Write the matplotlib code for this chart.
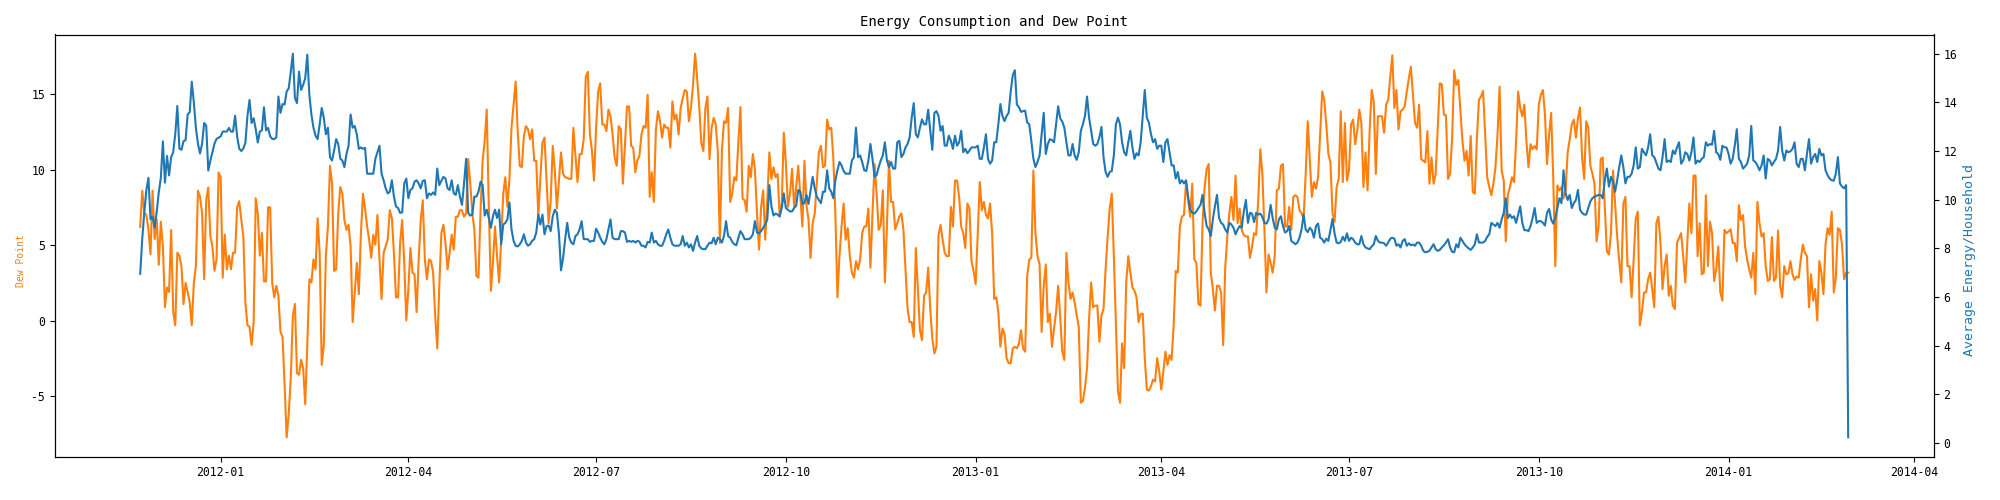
import matplotlib
matplotlib.use("Agg")
import matplotlib.pyplot as plt
import pandas as pd

start_date = "2011-11-23"

dew_point = [
    # 2011-11-23 ...
    6.2, 8.6, 7.1, 7.0, 6.0, 4.4, 8.6, 5.4, 6.7, 3.7,
    6.55, 4.9, 0.9, 2.2, 1.9, 6.0, 0.6, -0.3, 4.5, 4.3,
    3.6, 1.1, 2.5, 1.9, 1.2, -0.3, 2.5, 3.6, 8.6, 8.2,
    7.1, 2.75, 8.0, 8.8, 5.6, 4.9, 3.3, 4.05, 9.8, 9.5,
    2.85, 5.7, 3.4, 4.3, 3.4, 4.5, 4.5, 7.5, 7.9, 6.7,
    5.6, 1.2, -0.3, -0.4, -1.6, -0.1, 8.1, 7.1, 4.3, 5.8,
    2.6, 2.6, 7.5, 7.5, 2.5,
    1.55, 2.31, 1.65, -0.74, -1.07, -4.22, -7.71, -6.18, -3.79, 0.35,
    1.11, -3.46, -3.57, -2.59, -3.14, -5.53, -1.61, 2.74, 2.53, 4.05,
    3.4, 6.77, 4.49, -2.92, -1.61, 4.27, 6.23, 10.25, 9.06, 3.29,
    3.4, 7.1, 8.84, 8.4, 6.66, 6.01, 6.34, 4.92, -0.09, 1.87,
    3.83, 1.76, 5.79, 8.4, 7.42, 6.23, 5.36, 4.16, 5.68, 5.03,
    6.99, 4.05, 1.44, 4.49, 4.92, 5.36, 7.31, 6.77, 4.49, 1.55,
    1.55, 5.14, 6.66, 3.83, 0.02, 2.09, 4.81, 3.18, 3.07, 0.57,
    4.05, 6.66, 7.97, 4.05, 2.74, 4.05, 3.94, 3.18, 0.35, -1.83,
    2.31, 5.79, 6.34, 5.14, 3.4, 4.49, 5.68, 4.7, 6.88, 6.88,
    7.31, 7.31, 6.88, 7.1, 10.69, 9.06, 7.1, 6.01, 2.96, 2.85,
    7.31, 10.58, 11.89, 13.96, 7.53, 1.98, 3.83, 6.23, 4.27, 2.53,
    5.36, 8.4, 9.49, 7.53, 9.38, 12.76, 14.28, 15.81, 12.54, 10.25,
    10.15, 12.21, 12.87, 12.65, 12.0, 12.65, 10.58, 10.58, 6.88, 9.49,
    11.78, 12.11, 9.27, 6.45, 7.97, 11.56, 9.93, 7.42, 9.27, 11.13,
    9.71, 9.49, 9.45, 9.38, 9.38, 12.76, 10.91, 9.17, 11.02, 11.02,
    12.0, 16.13, 16.46, 12.32, 11.23, 9.27, 12.76, 15.15, 15.7, 12.98,
    12.98, 12.54, 13.96, 13.52, 12.32, 10.8, 10.25, 12.87, 12.65, 9.06,
    11.67, 14.17, 14.17, 11.56, 11.45, 9.82, 10.58, 10.91, 12.32, 12.87,
    12.76, 14.94, 8.19, 9.82, 7.86, 12.65, 13.85, 13.19, 12.11, 12.98,
    12.76, 12.76, 11.45, 14.5, 13.3, 13.63, 12.32, 14.07, 14.72, 15.26,
    15.15, 13.19, 14.07, 15.59, 17.66, 16.02, 14.17, 11.78, 11.23, 14.07,
    14.83, 10.69, 12.76, 13.41, 12.98, 11.23, 5.14, 11.23, 13.19, 13.08,
    14.07, 7.86, 8.4, 9.49, 9.27, 11.89, 14.13, 8.08, 7.97, 7.21,
    10.25, 9.49, 11.02, 10.04, 7.1, 4.7, 7.53, 8.62, 5.36, 7.97,
    11.13, 9.38, 10.15, 9.49, 9.71, 6.88, 7.75, 12.43, 10.47, 7.53,
    8.4, 10.04, 7.53, 8.84, 10.25, 8.3, 6.23, 10.58, 7.64, 6.66,
    4.16, 6.45, 7.1, 9.17, 11.13, 11.56, 10.15, 10.25, 13.3, 12.65,
    12.76, 10.8, 7.1, 1.55, 4.27, 6.23, 7.75, 5.36, 6.12, 4.27,
    3.18, 2.85, 3.94, 3.4, 4.05, 5.79, 6.23, 6.23, 7.42, 3.51,
    7.1, 10.36, 8.4, 6.01, 6.34, 8.62, 2.53, 6.23, 10.58, 7.86,
    7.86, 6.05, 6.45, 6.88, 7.1, 6.01, 3.4, 0.78, -0.09, -0.09,
    -1.07, 4.81, 2.09, -0.63, -1.28, 1.65, 1.87, 3.51, 0.78, -1.18,
    -2.16, -1.72, 5.68, 6.34, 5.36, 4.49, 4.27, 4.27, 7.53, 6.23,
    9.27, 9.27, 8.19, 6.23, 5.79, 4.81, 7.75, 7.42, 3.94, 3.29,
    2.42, 5.68, 9.17, 7.31, 7.86, 6.99, 6.77, 7.75, 5.79, 1.44,
    1.55, 0.57, -1.72, -0.52, -0.85, -2.48, -2.81, -2.81, -1.83, -1.72,
    -1.83, -1.5, -0.63, -1.83, -2.05, 2.96, 4.05, 4.16, 9.93, 5.79,
    4.27, 3.72, -0.74, 2.31, 3.72, -0.09, 0.46, -1.72, -0.52, 0.57,
    2.31, 0.24, -2.05, -2.59, 4.49, 2.53, 1.44, 1.87, 1.22, 0.35,
    -0.41, -5.42, -5.31, -4.44, -3.14, 0.13, 2.53, 0.89, 1.0, 1.0,
    -1.39, 0.35, 0.78, 3.4, 5.57, 7.42, 8.4, 4.27, -0.3, -4.66,
    -5.42, -1.5, -3.14, 2.53, 4.27, 3.18, 2.2, 1.98, 1.55, -0.09,
    0.46, 0.46, -2.48, -4.55, -4.62, -4.33, -3.9, -4.01, -2.48, -3.35,
    -4.55, -3.35, -2.05, -2.92, -2.27, -2.59, -0.3, 3.29, 3.18, 6.23,
    6.88, 6.99, 9.17, 7.97, 6.88, 9.06, 4.05, 3.83, 1.11, 1.0,
    6.45, 8.84, 10.04, 10.36, 3.18, 2.09, 0.68, 2.31, 2.31, 1.87,
    -1.61, 3.51, 5.57, 7.1, 8.19, 6.66, 9.6, 6.45, 7.42, 6.01,
    5.68, 5.57, 5.57, 4.16, 4.92, 5.79, 5.68, 7.97, 11.34, 9.71,
    6.01, 1.87, 4.38, 3.83, 3.18, 4.27, 8.62, 8.73, 10.25, 10.36,
    6.23, 6.23, 7.53, 6.01, 8.19, 8.3, 8.19, 7.31, 7.1, 6.77,
    9.71, 13.19, 10.58, 8.19, 9.17, 8.73, 9.49, 12.32, 15.15, 14.61,
    12.98, 11.02, 10.47, 7.1, 6.55, 8.84, 9.38, 13.85, 9.17, 13.08,
    9.27, 9.93, 12.98, 13.3, 11.67, 12.54, 13.96, 13.08, 8.84, 11.13,
    8.62, 12.54, 15.26, 14.5, 9.71, 13.52, 13.52, 13.52, 12.43, 14.28,
    14.61, 16.13, 17.55, 14.07, 15.26, 12.65, 13.85, 13.96, 14.17, 15.15,
    16.02, 16.79, 14.94, 13.08, 12.76, 14.28, 10.69, 10.58, 10.47, 12.54,
    9.06, 10.8, 9.06, 9.71, 12.76, 15.7, 15.63, 13.63, 13.59, 9.38,
    9.71, 12.11, 16.57, 15.59, 15.92, 13.85, 11.89, 10.58, 11.23, 9.6,
    12.21, 8.51, 8.4, 12.11, 14.61, 14.83, 15.2, 12.32, 9.49, 8.84,
    8.3, 9.06, 10.15, 12.32, 15.48, 9.93, 9.27, 5.25, 8.3, 8.84,
    9.49, 9.17, 11.89, 15.15, 14.07, 13.52, 14.28, 11.89, 10.15, 11.67,
    11.34, 11.56, 11.34, 14.28, 14.94, 15.26, 13.63, 10.36, 12.32, 13.74,
    9.49, 3.61, 8.95, 8.62, 8.84, 8.08, 8.62, 11.13, 12.0, 12.98,
    13.3, 12.11, 13.41, 14.11, 10.8, 9.38, 13.19, 12.76, 10.25, 9.71,
    9.06, 5.25, 6.23, 10.69, 10.8, 7.53, 4.59, 4.38, 5.79, 9.93,
    7.75, 5.57, 3.94, 2.53, 7.75, 8.19, 3.61, 3.61, 1.55, 4.05,
    6.77, 7.21, -0.3, 0.57, 1.87, 1.87, 2.74, 3.18, 2.09, 0.89,
    6.45, 6.88, 5.14, 2.09, 3.61, 4.38, 1.65, 2.31, 1.0, 0.78,
    5.14, 5.47, 5.79, 4.27, 2.53, 5.14, 7.75, 5.79, 9.6, 9.6,
    4.27, 6.45, 3.07, 3.18, 8.3, 3.61, 6.55, 5.79, 2.63, 3.4,
    4.92, 1.87, 1.33, 6.01, 5.79, 5.9, 6.05, 5.14, 5.14, 3.94,
    7.64, 6.66, 6.99, 4.92, 4.05, 3.4, 2.85, 4.49, 1.76, 7.86,
    6.45, 5.57, 5.79, 3.61, 2.63, 2.74, 5.53, 2.63, 2.85, 5.97,
    2.31, 1.55, 3.61, 3.07, 3.14, 3.94, 3.07, 2.7, 2.92, 2.85,
    4.05, 5.03, 4.49, 4.27, 0.89, 3.07, 1.33, 2.09, 0.02, 3.94,
    3.18, 1.76, 5.03, 6.12, 5.68, 7.21, 1.87, 2.85, 6.12, 6.01,
    5.03, 2.74, 3.18, 3.18,
]

avg_energy = [
    6.96, 8.4, 9.5, 10.4, 10.9, 9.2, 9.3, 8.85, 9.5, 10.3,
    10.9, 12.4, 10.7, 11.8, 11.0, 11.75, 11.95, 12.7, 13.85, 12.1,
    12.05, 12.4, 12.45, 13.5, 13.6, 14.85, 14.0, 12.95, 12.3, 11.9,
    12.3, 13.15, 13.05, 11.2, 11.6, 11.95, 12.3, 12.5, 12.55, 12.6,
    12.8, 12.8, 12.8, 12.95, 12.8, 12.8, 13.45, 12.6, 12.1, 12.0,
    12.1, 12.35, 13.45, 14.1, 13.15, 13.35, 12.9, 12.35, 12.8, 12.85,
    13.8, 12.85, 12.95, 12.6, 12.5,
    12.49, 12.56, 14.24, 13.57, 13.93, 13.91, 14.45, 14.58, 15.26, 16.0,
    14.18, 13.97, 15.26, 14.51, 14.72, 14.99, 15.96, 14.31, 13.5, 12.96,
    12.63, 12.49, 13.1, 13.77, 13.37, 12.69, 12.96, 11.75, 11.61, 12.02,
    12.49, 12.29, 11.68, 11.61, 11.34, 11.88, 12.22, 13.5, 12.96, 13.03,
    12.69, 12.09, 12.15, 12.09, 12.13, 11.07, 11.07, 11.07, 11.07, 11.68,
    11.95, 12.22, 11.07, 10.8, 10.47, 10.26, 10.33, 10.8, 10.13, 9.72,
    9.66, 9.46, 9.48, 10.67, 10.87, 10.06, 10.4, 10.47, 10.74, 10.8,
    10.67, 10.47, 10.78, 10.8, 10.06, 10.26, 10.2, 10.3, 10.2, 11.28,
    10.6, 10.78, 10.94, 10.87, 10.47, 10.4, 10.8, 10.26, 10.2, 10.6,
    10.13, 9.79, 10.67, 11.68, 9.46, 9.35, 9.39, 10.13, 10.13, 10.33,
    10.74, 10.6, 9.35, 9.59, 9.25, 8.85, 9.32, 9.59, 9.25, 9.59,
    8.17, 8.98, 9.05, 9.19, 9.89, 8.78, 8.31, 8.11, 8.08, 8.17,
    8.31, 8.58, 8.24, 8.11, 8.17, 8.31, 8.38, 8.65, 9.39, 8.98,
    9.39, 8.58, 8.92, 8.94, 8.71, 9.32, 9.59, 9.46, 8.6, 7.1,
    7.6, 8.38, 9.05, 8.44, 8.24, 8.17, 8.51, 8.58, 8.78, 9.12,
    8.38, 8.38, 8.38, 8.27, 8.31, 8.31, 8.81, 8.65, 8.44, 8.27,
    8.17, 8.38, 8.78, 9.19, 8.44, 8.38, 8.38, 8.38, 8.71, 8.71,
    8.65, 8.27, 8.31, 8.27, 8.31, 8.24, 8.31, 8.28, 8.11, 8.11,
    8.04, 8.27, 8.24, 8.65, 8.24, 8.31, 8.17, 8.11, 8.11, 8.31,
    8.58, 8.78, 8.44, 8.17, 8.11, 8.11, 8.11, 8.17, 8.51, 8.11,
    8.24, 8.04, 8.17, 7.9, 8.24, 8.51, 8.11, 8.0, 7.97, 7.97,
    8.11, 8.24, 8.21, 8.44, 8.17, 8.44, 8.38, 8.24, 8.51, 9.12,
    8.51, 8.44, 8.27, 8.17, 8.13, 8.44, 8.71, 8.58, 8.38, 8.38,
    8.38, 8.44, 8.58, 9.12, 8.65, 8.62, 8.71, 8.85, 8.98, 9.19,
    10.6, 9.73, 9.35, 9.43, 9.39, 9.32, 9.66, 10.26, 9.66, 9.59,
    9.52, 9.52, 9.66, 9.75, 10.4, 10.33, 9.83, 9.86, 10.2, 9.83,
    10.4, 10.94, 10.47, 10.13, 9.99, 9.86, 10.33, 10.33, 11.21, 10.47,
    10.33, 10.06, 10.8, 11.21, 11.55, 11.41, 11.18, 11.07, 11.07, 11.07,
    11.61, 11.75, 12.96, 11.75, 11.82, 11.55, 11.21, 11.18, 11.61, 12.29,
    11.68, 10.94, 11.01, 11.34, 11.61, 11.82, 12.36, 11.61, 11.34, 11.55,
    11.28, 11.28, 12.36, 12.42, 11.75, 11.88, 12.15, 12.29, 12.56, 13.37,
    13.97, 12.69, 12.56, 12.96, 13.3, 13.1, 13.1, 13.7, 12.83, 12.05,
    13.57, 13.64, 13.44, 12.83, 13.03, 12.22, 12.22, 12.63, 12.42, 12.09,
    12.63, 12.22, 12.36, 12.83, 11.95, 12.09, 11.91, 12.02, 12.15, 12.15,
    12.15, 12.22, 11.68, 11.68, 12.15, 12.69, 11.68, 11.48, 11.61, 12.36,
    12.36, 13.1, 13.93, 13.44, 13.23, 13.44, 13.57, 14.45, 15.12, 15.32,
    13.91, 13.8, 13.61, 13.64, 13.66, 13.17, 13.1, 12.42, 11.68, 11.34,
    11.55, 11.82, 12.69, 13.57, 11.88, 12.29, 12.49, 12.45, 12.36, 13.1,
    13.84, 13.34, 13.21, 12.96, 12.36, 11.82, 11.82, 12.29, 11.82, 11.64,
    11.95, 12.83, 13.1, 13.44, 14.24, 13.37, 12.83, 12.29, 12.22, 12.29,
    12.56, 12.99, 11.75, 11.14, 10.94, 11.14, 11.18, 11.82, 13.1, 13.37,
    13.1, 12.36, 11.95, 11.82, 12.36, 12.83, 12.15, 11.68, 11.91, 11.82,
    12.36, 13.44, 14.51, 13.37, 13.17, 12.69, 12.36, 12.49, 12.09, 12.22,
    12.22, 11.55, 12.36, 12.49, 11.95, 11.41, 11.41, 10.87, 11.14, 10.67,
    10.8, 10.67, 10.8, 10.13, 9.59, 9.46, 9.43, 9.52, 9.66, 9.79,
    10.2, 9.46, 8.92, 8.78, 8.51, 9.19, 9.73, 10.2, 9.25, 9.05,
    8.98, 8.78, 8.65, 9.05, 8.98, 8.85, 8.58, 8.78, 8.92, 8.85,
    9.52, 9.99, 9.05, 9.46, 9.43, 9.08, 9.46, 9.39, 9.43, 9.29,
    9.05, 9.02, 9.19, 9.79, 9.25, 8.85, 8.78, 9.19, 9.32, 8.92,
    8.65, 8.71, 8.92, 8.31, 8.24, 8.17, 8.24, 8.44, 8.78, 9.39,
    8.78, 8.67, 8.85, 8.75, 8.44, 8.92, 9.02, 8.44, 8.38, 8.24,
    8.4, 8.31, 8.75, 9.21, 8.62, 8.24, 8.21, 8.27, 8.48, 8.31,
    8.62, 8.31, 8.44, 8.38, 8.24, 8.17, 8.17, 8.51, 8.17, 8.04,
    8.0, 7.97, 8.08, 8.17, 8.51, 8.31, 8.24, 8.24, 8.21, 8.11,
    8.24, 8.4, 8.44, 8.4, 8.11, 8.17, 8.04, 8.31, 8.38, 8.11,
    8.21, 8.13, 8.16, 8.11, 8.24, 8.24, 8.11, 7.9, 7.84, 7.86,
    7.9, 8.04, 8.17, 7.97, 7.9, 7.94, 8.04, 8.13, 8.24, 8.38,
    8.04, 7.86, 7.84, 8.17, 8.04, 8.44, 8.31, 8.17, 8.08, 8.0,
    7.94, 8.04, 8.17, 8.58, 8.24, 8.24, 8.24, 8.31, 8.48, 8.58,
    9.05, 8.98, 8.92, 9.05, 8.85, 9.19, 9.46, 10.06, 9.25, 9.39,
    9.25, 9.32, 9.05, 9.39, 9.73, 9.05, 8.75, 8.75, 8.71, 8.92,
    9.25, 9.66, 9.05, 9.12, 9.12, 9.05, 8.94, 9.46, 9.62, 9.19,
    9.02, 9.25, 9.66, 10.06, 9.86, 11.21, 10.26, 9.99, 10.2, 9.66,
    9.86, 9.99, 10.4, 9.59, 9.46, 9.39, 9.39, 9.66, 9.93, 10.06,
    10.13, 10.16, 10.2, 10.2, 10.06, 10.8, 11.28, 10.54, 10.94, 10.74,
    10.33, 10.8, 11.34, 11.82, 11.34, 10.67, 10.94, 10.94, 11.07, 11.41,
    12.15, 11.28, 11.34, 12.09, 11.95, 11.82, 12.15, 12.69, 11.82, 11.75,
    11.51, 11.28, 11.21, 11.75, 12.49, 11.55, 11.61, 11.55, 12.02, 11.88,
    12.15, 12.36, 11.48, 11.61, 11.95, 11.88, 11.61, 11.95, 12.56, 11.48,
    11.61, 11.55, 11.68, 11.75, 12.36, 12.22, 12.29, 12.26, 12.83, 11.95,
    11.88, 11.64, 12.22, 12.15, 12.15, 11.88, 11.48, 11.68, 12.22, 12.9,
    11.68, 11.55, 11.28, 11.37, 11.48, 11.82, 13.03, 11.61, 11.55, 11.41,
    11.21, 11.41, 11.82, 10.87, 11.68, 11.61, 11.41, 11.55, 11.68, 12.02,
    12.99, 12.02, 11.61, 12.02, 11.95, 11.99, 12.09, 12.36, 11.48, 11.34,
    11.68, 11.68, 11.21, 11.88, 12.49, 11.48, 11.75, 11.88, 11.55, 12.09,
    11.82, 11.88, 11.21, 11.01, 10.87, 10.8, 10.78, 11.07, 11.75, 10.67,
    10.54, 10.47, 10.6, 0.24,
]

title = "Energy Consumption and Dew Point"
left_label = "Dew Point"
right_label = "Average Energy/Household"

plt.rcParams["font.family"] = ["DejaVu Sans Mono", "DejaVu Sans"]
plt.rcParams["axes.unicode_minus"] = False

dates_dew = pd.date_range(start_date, periods=len(dew_point), freq="D")
dates_energy = pd.date_range(start_date, periods=len(avg_energy), freq="D")

fig, ax1 = plt.subplots(figsize=(20, 5), dpi=100)
fig.subplots_adjust(left=0.0274, right=0.9668, top=0.931, bottom=0.087)

ax1.plot(dates_dew, dew_point, color="tab:orange", linewidth=1.5)
ax1.set_ylabel(left_label, color="tab:orange", fontsize=7, y=0.465)
ax1.tick_params(labelsize=8.3)

ax2 = ax1.twinx()
ax2.plot(dates_energy, avg_energy, color="tab:blue", linewidth=1.5)
ax2.set_ylabel(right_label, color="tab:blue", fontsize=9.5, y=0.465)
ax2.tick_params(labelsize=8.3)

ax1.set_title(title, fontsize=10)
fig.savefig("out.png", dpi=100)
